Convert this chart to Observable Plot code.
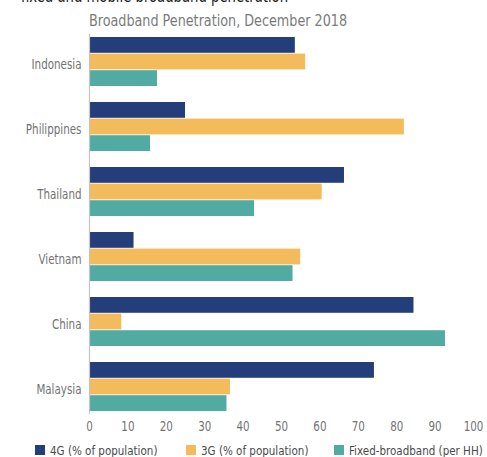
<!DOCTYPE html>
<html>
<head>
<meta charset="utf-8">
<script src="https://cdn.jsdelivr.net/npm/d3@7"></script>
<script src="https://cdn.jsdelivr.net/npm/@observablehq/plot@0.6"></script>
<style>
  html, body { margin: 0; padding: 0; background: #fff; }
  #wrap { position: relative; width: 487px; height: 457px; overflow: hidden;
    font-family: "DejaVu Sans Condensed", "DejaVu Sans", sans-serif; }
  .sq { display: inline-block; transform-origin: 0 50%; white-space: nowrap; }
  #cut { position: absolute; top: -14px; left: 21px; font-size: 17px; line-height: 20px; color: #222; transform: scaleX(0.864); }
  #title { position: absolute; top: 11px; left: 89px; font-size: 16px; line-height: 20px; color: #7a7a7a; transform: scaleX(0.887); }
  #chart { position: absolute; top: 30px; left: 0; }
  .item { position: absolute; top: 440px; height: 20px; display: flex; align-items: center; font-size: 13px; color: #4a4a4a; }
  .sw { width: 10px; height: 10px; margin-right: 5px; flex: none; }
  .lt { display: inline-block; transform: scaleX(0.885); transform-origin: 0 50%; white-space: nowrap; }
</style>
</head>
<body>
<div id="wrap">
  <div id="cut" class="sq">fixed and mobile broadband penetration</div>
  <div id="title" class="sq">Broadband Penetration, December 2018</div>
  <div id="chart"></div>
</div>
<script>
const countries = ["Indonesia", "Philippines", "Thailand", "Vietnam", "China", "Malaysia"];
const seriesNames = ["4G (% of population)", "3G (% of population)", "Fixed-broadband (per HH)"];
const values4G = [53.6, 25.0, 66.4, 11.6, 84.5, 74.2];
const values3G = [56.3, 82.0, 60.6, 55.0, 8.4, 36.7];
const valuesFixed = [17.7, 15.9, 43.0, 53.0, 92.7, 35.8];
const xTicks = [0, 10, 20, 30, 40, 50, 60, 70, 80, 90, 100];
const colors = ["#233e7b", "#f3bb5b", "#51aba2"];

const seriesValues = [values4G, values3G, valuesFixed];
const data = [];
seriesValues.forEach((vals, si) => {
  countries.forEach((c, ci) => data.push({country: c, series: seriesNames[si], value: vals[ci]}));
});

const W = 487, H = 410, mL = 89, mR = 14, mT = 4, mB = 26;
const padIn = 0.2424, padOut = 0.01;
const step = (H - mT - mB) / (countries.length - padIn + 2 * padOut);
const third = step * (1 - padIn) / 3;

const marks = seriesNames.map((s, i) =>
  Plot.barX(data.filter(d => d.series === s), {
    y: "country", x: "value", fill: colors[i],
    insetTop: third * i, insetBottom: third * (2 - i)
  })
);
marks.push(Plot.ruleX([0], {stroke: "#c4c4c4", strokeWidth: 1.2}));

const chart = Plot.plot({
  width: W, height: H,
  marginLeft: mL, marginRight: mR, marginTop: mT, marginBottom: mB,
  style: {fontFamily: '"DejaVu Sans Condensed", "DejaVu Sans", sans-serif', fontSize: "14px", color: "#737373", background: "transparent"},
  x: {domain: [0, 100], ticks: xTicks, tickSize: 0, tickPadding: 7, label: null},
  y: {domain: countries, paddingInner: padIn, paddingOuter: padOut, tickSize: 0, tickPadding: 8, label: null},
  marks
});
document.getElementById("chart").appendChild(chart);

// condense the axis texts horizontally around their anchor points
const sx = 0.82;
chart.querySelectorAll("text").forEach(t => {
  const isY = t.getAttribute("text-anchor") === "end" ||
    (t.parentNode && t.parentNode.getAttribute && t.parentNode.getAttribute("text-anchor") === "end");
  const shift = isY ? " translate(0,3)" : "";
  const tr = t.getAttribute("transform");
  if (tr && /translate/.test(tr)) {
    t.setAttribute("transform", tr + shift + ` scale(${sx},1)`);
  } else {
    const x = +t.getAttribute("x") || 0, y = +t.getAttribute("y") || 0;
    t.removeAttribute("x"); t.removeAttribute("y");
    t.setAttribute("transform", `translate(${x},${y})` + shift + ` scale(${sx},1)`);
  }
});

const wrap = document.getElementById("wrap");
const legendLefts = [35, 186, 334];
seriesNames.forEach((s, i) => {
  const it = document.createElement("div");
  it.className = "item";
  it.style.left = legendLefts[i] + "px";
  const sw = document.createElement("div");
  sw.className = "sw";
  sw.style.background = colors[i];
  const t = document.createElement("span");
  t.className = "lt";
  t.textContent = s;
  it.appendChild(sw); it.appendChild(t);
  wrap.appendChild(it);
});
</script>
</body>
</html>
